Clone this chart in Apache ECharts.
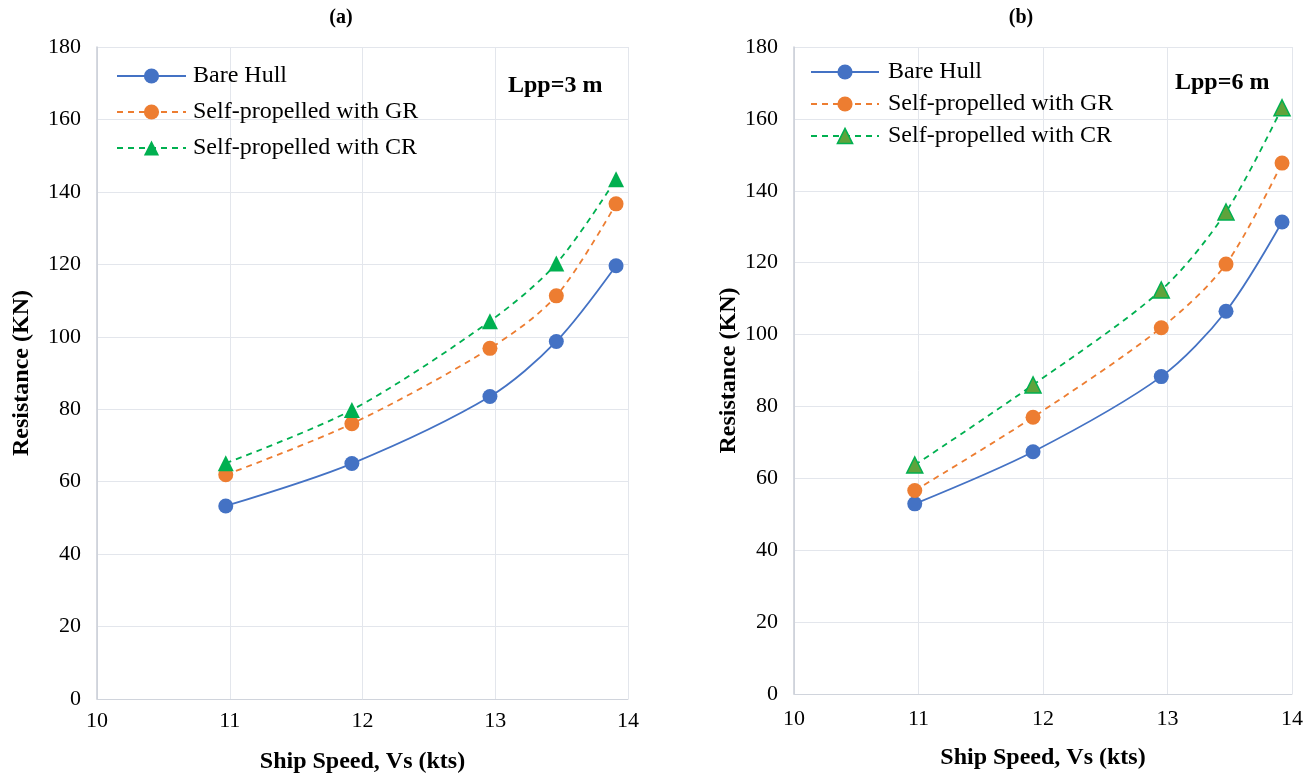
<!DOCTYPE html>
<html>
<head>
<meta charset="utf-8">
<script src="https://cdn.jsdelivr.net/npm/echarts@6/dist/echarts.min.js"></script>
<style>html,body{margin:0;padding:0;background:#fff}#c{width:1316px;height:782px}</style>
</head>
<body>
<div id="c"></div>
<script>
const speedA = [10.97, 11.92, 12.96, 13.46, 13.91];
const bareA = [53.3, 65.0, 83.5, 98.7, 119.6];
const grA = [61.9, 76.0, 96.8, 111.3, 136.7];
const crA = [65.1, 79.8, 104.3, 120.2, 143.5];

const speedB = [10.97, 11.92, 12.95, 13.47, 13.92];
const bareB = [52.9, 67.4, 88.3, 106.5, 131.3];
const grB = [56.6, 77.0, 101.9, 119.6, 147.7];
const crB = [63.7, 86.0, 112.4, 134.1, 163.1];

const xTicks = [10, 11, 12, 13, 14];
const seriesNames = ['Bare Hull', 'Self-propelled with GR', 'Self-propelled with CR'];
const panelTitles = ['(a)', '(b)'];
const lppLabels = ['Lpp=3 m', 'Lpp=6 m'];

const BLUE = '#4472C4', ORANGE = '#ED7D31', GREEN = '#00B050', OLIVE = '#5FA33C';
const FONT = '"Liberation Serif", "Times New Roman", serif';
const gridColor = '#E3E6EC';

function pairs(xs, ys) { return xs.map((x, i) => [x, ys[i]]); }

function xAxis(idx, margin, gap) {
  return {
    type: 'value', gridIndex: idx, min: 10, max: 14, interval: 1,
    name: 'Ship Speed, Vs (kts)', nameLocation: 'middle', nameGap: gap,
    nameTextStyle: { fontFamily: FONT, fontSize: 24, fontWeight: 'bold', color: '#000' },
    axisLine: { show: true, lineStyle: { color: '#D0D4DC', width: 1 } },
    axisTick: { show: false },
    axisLabel: { fontFamily: FONT, fontSize: 22, color: '#000', margin: margin,
      formatter: v => xTicks.includes(v) ? String(v) : '' },
    splitLine: { show: true, lineStyle: { color: gridColor, width: 1 } }
  };
}
function yAxis(idx, gap) {
  return {
    type: 'value', gridIndex: idx, min: 0, max: 180, interval: 20,
    name: 'Resistance (KN)', nameLocation: 'middle', nameGap: gap, nameRotate: 90,
    nameTextStyle: { fontFamily: FONT, fontSize: 24, fontWeight: 'bold', color: '#000' },
    axisLine: { show: true, lineStyle: { color: '#C9CDD6', width: 1.5 } },
    axisTick: { show: false },
    axisLabel: { fontFamily: FONT, fontSize: 22, color: '#000', margin: 16 },
    splitLine: { show: true, lineStyle: { color: gridColor, width: 1 } }
  };
}
function mkSeries(idx, xs, bare, gr, cr, triFill) {
  return [
    { name: seriesNames[0], type: 'line', xAxisIndex: idx, yAxisIndex: idx, data: pairs(xs, bare),
      smooth: 0.3, symbol: 'circle', symbolSize: 15,
      lineStyle: { color: BLUE, width: 1.8 }, itemStyle: { color: BLUE } },
    { name: seriesNames[1], type: 'line', xAxisIndex: idx, yAxisIndex: idx, data: pairs(xs, gr),
      smooth: 0.3, symbol: 'circle', symbolSize: 15,
      lineStyle: { color: ORANGE, width: 1.8, type: [6, 5] }, itemStyle: { color: ORANGE } },
    { name: seriesNames[2], type: 'line', xAxisIndex: idx, yAxisIndex: idx, data: pairs(xs, cr),
      smooth: 0.3, symbol: 'triangle', symbolSize: 16,
      lineStyle: { color: GREEN, width: 1.8, type: [6, 5] },
      itemStyle: { color: triFill, borderColor: GREEN, borderWidth: triFill === GREEN ? 0 : 1.5 } }
  ];
}

const chart = echarts.init(document.getElementById('c'), null, { renderer: 'canvas' });
chart.setOption({
  backgroundColor: '#fff',
  animation: false,
  title: [
    { text: panelTitles[0], left: 341, top: 8, textAlign: 'center', padding: 0,
      textStyle: { fontFamily: FONT, fontSize: 20, fontWeight: 'bold', color: '#000' } },
    { text: panelTitles[1], left: 1021, top: 8, textAlign: 'center', padding: 0,
      textStyle: { fontFamily: FONT, fontSize: 20, fontWeight: 'bold', color: '#000' } },
    { text: lppLabels[0], left: 508, top: 74, padding: 0,
      textStyle: { fontFamily: FONT, fontSize: 24, fontWeight: 'bold', color: '#000' } },
    { text: lppLabels[1], left: 1175, top: 71, padding: 0,
      textStyle: { fontFamily: FONT, fontSize: 24, fontWeight: 'bold', color: '#000' } }
  ],
  grid: [
    { left: 97, top: 47, width: 531, height: 652 },
    { left: 794, top: 47, width: 498, height: 647 }
  ],
  legend: [
    { orient: 'vertical', left: 116, top: 64, padding: 0, itemWidth: 69, itemHeight: 19, itemGap: 12,
      textStyle: { fontFamily: FONT, fontSize: 24, color: '#000', padding: [0, 0, 0, 2] },
      data: seriesNames.map(n => ({ name: n })) },
    { orient: 'vertical', left: 810, top: 60, padding: 0, itemWidth: 68, itemHeight: 19, itemGap: 8,
      textStyle: { fontFamily: FONT, fontSize: 24, color: '#000', padding: [0, 0, 0, 4] },
      data: [
        { name: seriesNames[0] },
        { name: seriesNames[1] },
        { name: seriesNames[2], itemStyle: { color: OLIVE, borderColor: GREEN, borderWidth: 1.5 } }
      ] }
  ],
  xAxis: [xAxis(0, 11, 51), xAxis(1, 14, 52)],
  yAxis: [yAxis(0, 63), yAxis(1, 53)],
  series: [
    ...mkSeries(0, speedA, bareA, grA, crA, GREEN),
    ...mkSeries(1, speedB, bareB, grB, crB, OLIVE)
  ]
});
</script>
</body>
</html>
